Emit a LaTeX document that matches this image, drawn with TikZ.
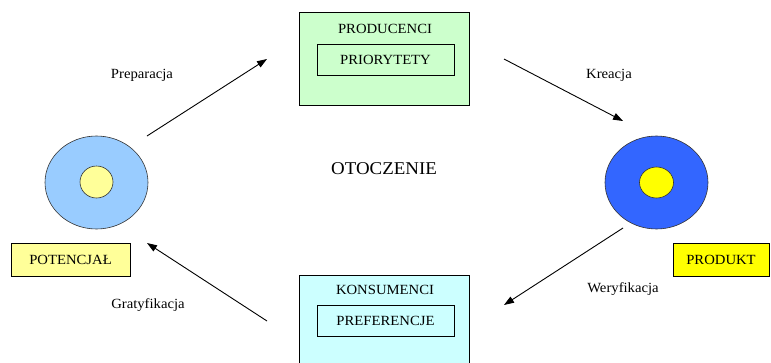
\documentclass[tikz,border=0pt]{standalone}
\usepackage{fontspec}
\setmainfont{Liberation Serif}[FakeStretch=1.05]
\usetikzlibrary{arrows.meta,shapes.geometric}
\definecolor{prodgreen}{HTML}{CCFFCC}
\definecolor{konscyan}{HTML}{CCFFFF}
\definecolor{potblue}{HTML}{99CCFF}
\definecolor{potyellow}{HTML}{FFFF99}
\definecolor{prodblue}{HTML}{3366FF}
\definecolor{prodyellow}{HTML}{FFFF00}
\begin{document}
\begin{tikzpicture}[x=1pt,y=-1pt,
  box/.style={draw=black, line width=1pt, inner sep=0pt},
  txt/.style={font=\fontsize{14}{16}\selectfont, inner sep=0pt},
  capbox/.style={box, txt, text height=9.5pt, text depth=0pt},
  disc/.style={draw=black!80, line width=0.6pt, inner sep=0pt},
  flow/.style={draw=black, line width=0.9pt, -{Triangle[length=10pt,width=7pt]}}]
\useasboundingbox (0,0) rectangle (771,362);
\clip (0,0) rectangle (771,362);
% producers
\node[box, fill=prodgreen, minimum width=170pt, minimum height=93pt] (prod) at (384,58.5) {};
\node[txt, anchor=base] (prodtitle) at (385,33) {PRODUCENCI};
\node[capbox, minimum width=137pt, minimum height=31pt] (prio) at (385.5,59.5) {PRIORYTETY};
% consumers
\node[box, fill=konscyan, minimum width=170pt, minimum height=93pt] (kons) at (384,321.5) {};
\node[txt, anchor=base] (konstitle) at (385,294) {KONSUMENCI};
\node[capbox, minimum width=137pt, minimum height=31pt] (pref) at (385.5,320.5) {PREFERENCJE};
% potential
\node[disc, ellipse, fill=potblue, minimum width=103pt, minimum height=93pt] (potout) at (96.5,182.5) {};
\node[disc, ellipse, fill=potyellow, minimum width=33pt, minimum height=32pt] (potin) at (96.5,182) {};
\node[capbox, fill=potyellow, minimum width=119pt, minimum height=33pt] (potlab) at (70.5,259.5) {POTENCJAŁ};
% product
\node[disc, ellipse, fill=prodblue, minimum width=103pt, minimum height=93pt] (prdout) at (656.5,182.5) {};
\node[disc, ellipse, fill=prodyellow, minimum width=34pt, minimum height=31pt] (prdin) at (656.5,182.5) {};
\node[capbox, fill=prodyellow, minimum width=96pt, minimum height=33pt] (prdlab) at (721,259.5) {PRODUKT};
% environment
\node[font=\fontsize{18}{20}\selectfont, inner sep=0pt, anchor=base] (env) at (384,174) {OTOCZENIE};
% arrows
\coordinate (prepS) at (147,136);
\coordinate (prepE) at (267,59);
\coordinate (kreS) at (504,59);
\coordinate (kreE) at (623,121);
\coordinate (werS) at (623,228);
\coordinate (werE) at (504,305);
\coordinate (graS) at (267,321);
\coordinate (graE) at (147,243);
\draw[flow] (prepS) -- (prepE);
\draw[flow] (kreS) -- (kreE);
\draw[flow] (werS) -- (werE);
\draw[flow] (graS) -- (graE);
% labels
\node[txt, anchor=base] (prepL) at (142,78) {Preparacja};
\node[txt, anchor=base] (kreL) at (609,78) {Kreacja};
\node[txt, anchor=base] (werL) at (623,292) {Weryfikacja};
\node[txt, anchor=base] (graL) at (148,308) {Gratyfikacja};
\end{tikzpicture}
\end{document}
